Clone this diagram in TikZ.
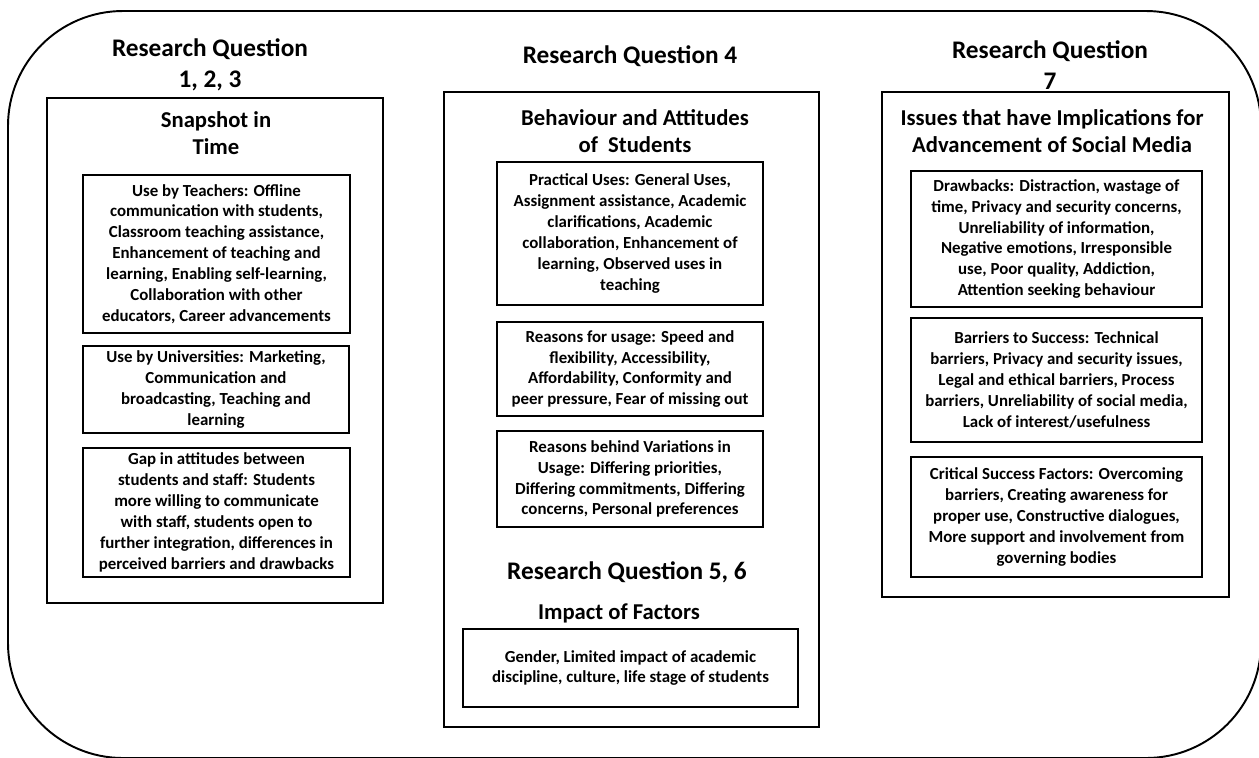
\documentclass[tikz,border=0pt]{standalone}
\usepackage{fontspec}
\setmainfont{Carlito}

\begin{document}
\begin{tikzpicture}
    \tikzstyle{frame}=[draw, line width=1.4pt, inner sep=0pt]
    \tikzstyle{item}=[draw, line width=1.6pt, align=center, inner sep=0pt,
            font=\bfseries\fontsize{9.6}{11.9}\selectfont]
    \tikzstyle{question}=[align=center,
            font=\bfseries\fontsize{14.4}{17.6}\selectfont]
    \tikzstyle{theme}=[align=center,
            font=\bfseries\fontsize{12.9}{15.3}\selectfont]

        \useasboundingbox (0,0) rectangle (25.18,-15.14);
        \clip (0,0) rectangle (25.18,-15.14);

        % outer rounded border, runs off the page at right and bottom
        \draw[line width=1.1pt, rounded corners=2.3cm]
        (0.16,-0.22) rectangle (25.22,-15.16);

        % column frames
        \node[frame, minimum width=6.72cm, minimum height=10.1cm]
        (snap) at (4.30,-7.01) {};
        \node[frame, minimum width=7.5cm, minimum height=12.7cm]
        (behav) at (12.63,-8.19) {};
        \node[frame, minimum width=6.94cm, minimum height=10.1cm]
        (issues) at (21.11,-6.89) {};

        % research question headings
        \node[question] (rq1) at (4.2,-1.3) {Research Question\\1, 2, 3};
        \node[question] (rq4) at (12.6,-1.12) {Research Question 4};
        \node[question] (rq7) at (21.0,-1.3) {Research Question\\7};
        \node[question] (rq5) at (12.54,-11.44) {Research Question 5, 6};

        \node[theme] (tsnap) at (4.32,-2.66) {Snapshot in\\Time};
        \node[theme] (tbehav) at (12.7,-2.63)
        {Behaviour and Attitudes\\of\ \ Students};
        \node[theme] (tissues) at (21.04,-2.63)
        {Issues that have Implications for\\Advancement of Social Media};
        \node[theme] (timpact) at (12.38,-12.26) {Impact of Factors};

        % left column
        \node[item, minimum width=5.34cm, minimum height=3.16cm]
        (teach) at (4.33,-5.08)
        {Use by Teachers: Offline\\communication with students,\\
        Classroom teaching assistance,\\Enhancement of teaching and\\
        learning, Enabling self-learning,\\Collaboration with other\\
        educators, Career advancements};

        \node[item, minimum width=5.32cm, minimum height=1.74cm]
        (univ) at (4.32,-7.79)
        {Use by Universities: Marketing,\\Communication and\\
        broadcasting, Teaching and\\learning};

        \node[item, minimum width=5.34cm, minimum height=2.58cm]
        (gap) at (4.33,-10.25)
        {Gap in attitudes between\\students and staff: Students\\
        more willing to communicate\\with staff, students open to\\
        further integration, differences in\\
        perceived barriers and drawbacks};

        % middle column
        \node[item, minimum width=5.32cm, minimum height=2.86cm]
        (pract) at (12.6,-4.67)
        {Practical Uses: General Uses,\\Assignment assistance, Academic\\
        clarifications, Academic\\collaboration, Enhancement of\\
        learning, Observed uses in\\teaching};

        \node[item, minimum width=5.32cm, minimum height=1.88cm]
        (reas) at (12.6,-7.38)
        {Reasons for usage: Speed and\\flexibility, Accessibility,\\
        Affordability, Conformity and\\peer pressure, Fear of missing out};

        \node[item, minimum width=5.32cm, minimum height=1.92cm]
        (vari) at (12.6,-9.58)
        {Reasons behind Variations in\\Usage: Differing priorities,\\
        Differing commitments, Differing\\concerns, Personal preferences};

        \node[item, minimum width=6.7cm, minimum height=1.56cm]
        (fact) at (12.61,-13.36)
        {Gender, Limited impact of academic\\
        discipline, culture, life stage of students};

        % right column
        \node[item, minimum width=5.82cm, minimum height=2.72cm]
        (draw) at (21.13,-4.78)
        {Drawbacks: Distraction, wastage of\\
        time, Privacy and security concerns,\\
        Unreliability of information,\\Negative emotions, Irresponsible\\
        use, Poor quality, Addiction,\\Attention seeking behaviour};

        \node[item, minimum width=5.82cm, minimum height=2.48cm]
        (barr) at (21.13,-7.6)
        {Barriers to Success: Technical\\
        barriers, Privacy and security issues,\\
        Legal and ethical barriers, Process\\
        barriers, Unreliability of social media,\\
        Lack of interest/usefulness};

        \node[item, minimum width=5.82cm, minimum height=2.4cm]
        (crit) at (21.13,-10.34)
        {Critical Success Factors: Overcoming\\
        barriers, Creating awareness for\\
        proper use, Constructive dialogues,\\
        More support and involvement from\\governing bodies};

    \end{tikzpicture}
\end{document}
